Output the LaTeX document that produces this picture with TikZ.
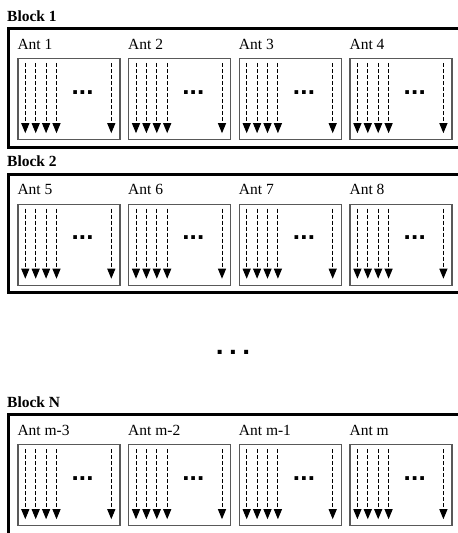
\documentclass[tikz,border=0pt]{standalone}
\usepackage{fontspec}
\setmainfont{Liberation Serif}
\newfontfamily\dotfont{Liberation Sans}
\usetikzlibrary{arrows.meta,calc}
\begin{document}
\begin{tikzpicture}[x=1pt,y=-1pt,
  blockframe/.style={draw=black,line width=3pt},
  antbox/.style={draw=black!65,line width=1.2pt,minimum width=102pt,minimum height=81pt,inner sep=0pt,anchor=north west},
  antlabel/.style={font=\fontsize{15.5}{18}\selectfont,anchor=base west,inner sep=0pt},
  blocklabel/.style={font=\bfseries\fontsize{15.5}{18}\selectfont,anchor=base west,inner sep=0pt},
  sig/.style={dash pattern=on 4pt off 2pt,line width=1pt,-{Triangle[width=8pt,length=10pt]}},
  smalldots/.style={font=\dotfont\bfseries\fontsize{26}{28}\selectfont,inner sep=0pt},
  bigdots/.style={font=\dotfont\bfseries\fontsize{28}{30}\selectfont,inner sep=0pt}]
\useasboundingbox (0,0) rectangle (458,533);
\clip (0,0) rectangle (458,533);
\foreach \b/\dy/\lab/\bot/\ta/\tb/\tc/\td in {1/0/Block 1/147.3/Ant 1/Ant 2/Ant 3/Ant 4,
    2/145.5/Block 2/292.8/Ant 5/Ant 6/Ant 7/Ant 8,
    N/386/Block N/600/Ant m-3/Ant m-2/Ant m-1/Ant m}{
  \node[blocklabel] (lab\b) at (7,21+\dy) {\lab};
  \draw[blockframe] (8.3,28.8+\dy) rectangle (490,\bot);
  \foreach \i/\t in {1/\ta,2/\tb,3/\tc,4/\td}{
    \pgfmathsetmacro{\bx}{17.3+110.7*(\i-1)}
    \node[antlabel] (al\b\i) at (\bx,49+\dy) {\t};
    \node[antbox] (box\b\i) at (\bx,58+\dy) {};
    \foreach \k/\ox in {1/8,2/18.4,3/28.8,4/39.2,5/94}{
      \coordinate (s\b\i\k) at ($(box\b\i.north west)+(\ox,5)$);
      \coordinate (e\b\i\k) at ($(box\b\i.south west)+(\ox,-7)$);
      \draw[sig] (s\b\i\k) -- (e\b\i\k);
    }
    \node[smalldots] (d\b\i) at ($(box\b\i.north west)+(65.3,34.3)$) {.\kern0.2pt.\kern0.2pt.};
  }
}
\node[bigdots] (mid) at (233,352.3) {.\kern5.5pt.\kern5.5pt.};
\end{tikzpicture}
\end{document}
